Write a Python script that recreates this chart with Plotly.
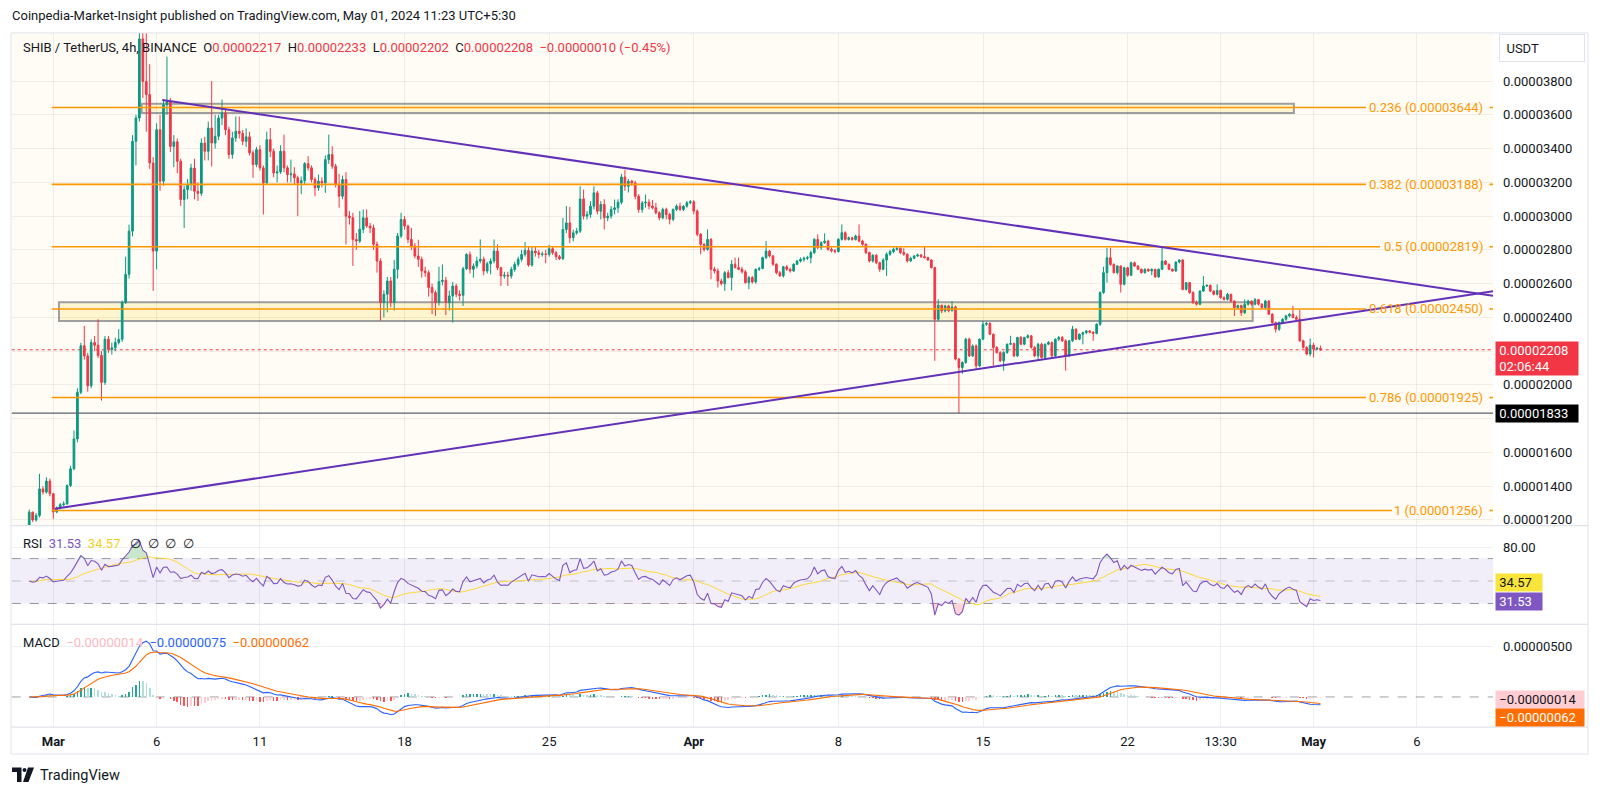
import numpy as np
import pandas as pd
import plotly.graph_objects as go

W, H = 1600, 796
UNIT = 1e-8  # prices below are in units of 0.00000001 USDT

# ---------------- data ----------------
first_open = 1170
closes = [
    1246, 1200, 1227, 1384, 1365, 1430, 1355, 1247, 1270, 1290,
    1295, 1404, 1503, 1680, 1956, 2232, 2172, 1995, 2251, 2235,
    2175, 2015, 2271, 2210, 2220, 2251, 2270, 2488, 2655, 2911,
    3443, 3581, 4050, 3798, 3720, 3315, 2793, 3512, 3207, 3660,
    3680, 3413, 3440, 3325, 3098, 3157, 3187, 3285, 3147, 3135,
    3433, 3384, 3522, 3433, 3473, 3581, 3611, 3512, 3365, 3463,
    3503, 3490, 3443, 3470, 3375, 3306, 3394, 3286, 3197, 3453,
    3384, 3256, 3262, 3384, 3286, 3246, 3250, 3227, 3197, 3210,
    3311, 3286, 3217, 3168, 3207, 3197, 3335, 3365, 3296, 3187,
    3118, 3217, 3000, 2990, 2862, 2852, 2922, 2990, 2941, 2930,
    2833, 2734, 2488, 2537, 2616, 2488, 2685, 2882, 2980, 2941,
    2862, 2823, 2764, 2744, 2675, 2665, 2577, 2547, 2488, 2612,
    2620, 2488, 2527, 2586, 2537, 2531, 2688, 2773, 2685, 2704,
    2734, 2744, 2675, 2718, 2734, 2793, 2694, 2645, 2650, 2645,
    2684, 2714, 2744, 2773, 2797, 2710, 2793, 2783, 2773, 2776,
    2773, 2807, 2783, 2760, 2748, 2921, 2960, 2872, 2901, 2911,
    3102, 3000, 3010, 3059, 3138, 3029, 3069, 2990, 3000, 3039,
    3049, 3082, 3232, 3177, 3207, 3197, 3118, 3039, 3078, 3082,
    3060, 3049, 3020, 2990, 3040, 3010, 2981, 3040, 3059, 3040,
    3059, 3079, 3085, 3030, 2892, 2833, 2803, 2862, 2685, 2675,
    2616, 2600, 2665, 2636, 2715, 2695, 2685, 2670, 2606, 2636,
    2610, 2685, 2690, 2754, 2793, 2764, 2715, 2665, 2646, 2700,
    2685, 2675, 2715, 2734, 2744, 2750, 2754, 2784, 2862, 2813,
    2843, 2852, 2803, 2795, 2790, 2862, 2902, 2862, 2872, 2862,
    2882, 2852, 2833, 2784, 2734, 2768, 2724, 2685, 2740, 2774,
    2790, 2803, 2810, 2784, 2774, 2734, 2750, 2764, 2770, 2760,
    2754, 2740, 2695, 2389, 2472, 2438, 2468, 2440, 2462, 2153,
    2103, 2133, 2271, 2172, 2231, 2113, 2271, 2359, 2365, 2300,
    2222, 2192, 2143, 2192, 2241, 2245, 2172, 2281, 2241, 2281,
    2291, 2222, 2172, 2241, 2163, 2241, 2251, 2172, 2271, 2281,
    2261, 2172, 2261, 2330, 2271, 2300, 2310, 2320, 2312, 2305,
    2359, 2547, 2665, 2753, 2714, 2665, 2704, 2596, 2694, 2650,
    2724, 2704, 2685, 2665, 2685, 2675, 2685, 2640, 2685, 2734,
    2714, 2685, 2675, 2728, 2740, 2566, 2606, 2547, 2488, 2478,
    2556, 2586, 2590, 2556, 2537, 2560, 2517, 2507, 2537, 2497,
    2458, 2470, 2428, 2478, 2497, 2478, 2505, 2478, 2458, 2497,
    2419, 2369, 2330, 2370, 2389, 2409, 2419, 2399, 2389, 2261,
    2222, 2183, 2236, 2212, 2217, 2208,
]
highs = [
    1262, 1250, 1240, 1473, 1400, 1453, 1445, 1360, 1280, 1300,
    1310, 1410, 1520, 1730, 1980, 2250, 2350, 2190, 2270, 2290,
    2389, 2200, 2290, 2290, 2250, 2280, 2330, 2500, 2760, 2950,
    3480, 3600, 4400, 4300, 4120, 3900, 3350, 3550, 3600, 3690,
    3945, 3700, 3480, 3460, 3340, 3180, 3220, 3310, 3340, 3200,
    3460, 3470, 3560, 3800, 3600, 3600, 3690, 3630, 3530, 3500,
    3590, 3590, 3510, 3520, 3500, 3390, 3410, 3420, 3300, 3500,
    3522, 3400, 3300, 3420, 3483, 3300, 3335, 3290, 3240, 3235,
    3320, 3355, 3300, 3230, 3246, 3230, 3360, 3483, 3414, 3310,
    3250, 3240, 3260, 3030, 3020, 2900, 3030, 3040, 3040, 2960,
    2950, 2850, 2750, 2560, 2640, 2640, 2740, 2900, 3020, 3000,
    2950, 2930, 2840, 2860, 2760, 2700, 2680, 2600, 2560, 2700,
    2714, 2640, 2560, 2610, 2600, 2560, 2700, 2780, 2790, 2720,
    2760, 2862, 2760, 2730, 2750, 2862, 2832, 2700, 2670, 2670,
    2700, 2730, 2760, 2800, 2846, 2820, 2823, 2820, 2800, 2790,
    2800, 2830, 2820, 2795, 2770, 2990, 3059, 3055, 2920, 2930,
    3177, 3157, 3030, 3089, 3177, 3150, 3090, 3100, 3020, 3060,
    3098, 3100, 3250, 3275, 3220, 3215, 3210, 3130, 3090, 3128,
    3100, 3095, 3079, 3030, 3050, 3050, 3020, 3045, 3070, 3079,
    3065, 3090, 3095, 3095, 3040, 2900, 2840, 2921, 2870, 2700,
    2690, 2630, 2675, 2680, 2740, 2754, 2754, 2700, 2680, 2645,
    2645, 2690, 2700, 2760, 2852, 2800, 2770, 2720, 2675, 2705,
    2710, 2695, 2720, 2740, 2755, 2760, 2765, 2795, 2870, 2892,
    2850, 2898, 2860, 2815, 2805, 2870, 2951, 2910, 2880, 2878,
    2890, 2951, 2860, 2840, 2790, 2775, 2775, 2730, 2750, 2785,
    2800, 2815, 2820, 2815, 2810, 2780, 2760, 2770, 2778, 2775,
    2819, 2760, 2745, 2700, 2507, 2475, 2475, 2475, 2497, 2470,
    2160, 2140, 2280, 2280, 2240, 2240, 2275, 2379, 2372, 2370,
    2305, 2230, 2200, 2200, 2245, 2291, 2250, 2285, 2290, 2285,
    2300, 2295, 2230, 2250, 2250, 2245, 2260, 2258, 2275, 2290,
    2290, 2270, 2265, 2350, 2335, 2305, 2315, 2325, 2325, 2318,
    2365, 2555, 2700, 2813, 2813, 2720, 2710, 2708, 2700, 2700,
    2730, 2730, 2710, 2690, 2690, 2690, 2690, 2688, 2690, 2813,
    2740, 2720, 2690, 2732, 2745, 2745, 2610, 2610, 2555, 2500,
    2560, 2645, 2595, 2595, 2560, 2596, 2565, 2525, 2545, 2540,
    2500, 2475, 2475, 2507, 2505, 2500, 2515, 2510, 2485, 2505,
    2500, 2425, 2375, 2375, 2395, 2415, 2425, 2468, 2412, 2445,
    2268, 2230, 2275, 2250, 2226, 2233,
]
lows = [
    1160, 1188, 1190, 1215, 1350, 1355, 1340, 1207, 1240, 1262,
    1280, 1290, 1395, 1495, 1660, 1945, 2150, 1960, 1980, 2200,
    2160, 1907, 2000, 2190, 2180, 2200, 2240, 2255, 2480, 2630,
    2880, 3300, 3560, 3700, 3500, 3280, 2557, 2685, 3150, 3180,
    3600, 3380, 3290, 3255, 3060, 2930, 3100, 3150, 3100, 3090,
    3120, 3330, 3330, 3295, 3400, 3450, 3540, 3480, 3340, 3340,
    3440, 3460, 3420, 3410, 3360, 3227, 3290, 3270, 3010, 3190,
    3350, 3230, 3200, 3250, 3260, 3200, 3200, 3190, 3000, 3130,
    3190, 3270, 3200, 3118, 3150, 3170, 3138, 3310, 3280, 3170,
    3050, 3100, 2832, 2950, 2705, 2800, 2840, 2900, 2930, 2900,
    2800, 2665, 2380, 2400, 2430, 2460, 2440, 2630, 2870, 2920,
    2840, 2800, 2750, 2700, 2636, 2640, 2523, 2420, 2409, 2470,
    2590, 2413, 2440, 2369, 2520, 2500, 2468, 2680, 2660, 2635,
    2690, 2720, 2650, 2660, 2655, 2720, 2680, 2586, 2630, 2586,
    2630, 2670, 2700, 2730, 2760, 2700, 2700, 2760, 2750, 2760,
    2720, 2760, 2770, 2740, 2740, 2740, 2900, 2840, 2850, 2890,
    2900, 2980, 2980, 2990, 3040, 3010, 2980, 2921, 2970, 2985,
    3010, 3020, 3070, 3150, 3140, 3180, 3100, 3020, 3020, 3050,
    3040, 3040, 3010, 2975, 2980, 2981, 2951, 2970, 3030, 3030,
    3030, 3050, 3070, 3010, 2880, 2774, 2790, 2795, 2626, 2660,
    2577, 2590, 2557, 2630, 2560, 2690, 2680, 2660, 2600, 2567,
    2600, 2600, 2675, 2685, 2745, 2755, 2705, 2655, 2640, 2636,
    2675, 2665, 2670, 2710, 2725, 2730, 2740, 2720, 2775, 2805,
    2800, 2835, 2795, 2785, 2780, 2785, 2855, 2855, 2855, 2855,
    2855, 2845, 2825, 2775, 2725, 2725, 2715, 2670, 2680, 2646,
    2765, 2780, 2795, 2775, 2765, 2725, 2730, 2745, 2758, 2752,
    2750, 2735, 2690, 2143, 2379, 2425, 2430, 2430, 2435, 2145,
    1832, 2065, 2125, 2165, 2165, 2094, 2105, 2265, 2350, 2295,
    2113, 2185, 2135, 2084, 2185, 2235, 2165, 2165, 2235, 2235,
    2275, 2215, 2165, 2143, 2155, 2155, 2235, 2165, 2165, 2260,
    2255, 2084, 2165, 2255, 2265, 2265, 2240, 2300, 2305, 2261,
    2300, 2350, 2540, 2606, 2705, 2660, 2655, 2547, 2590, 2640,
    2645, 2700, 2680, 2660, 2660, 2670, 2650, 2635, 2635, 2680,
    2710, 2680, 2670, 2670, 2720, 2560, 2560, 2540, 2480, 2470,
    2472, 2550, 2580, 2550, 2530, 2530, 2510, 2500, 2500, 2490,
    2409, 2450, 2409, 2420, 2470, 2470, 2472, 2470, 2450, 2450,
    2415, 2362, 2310, 2320, 2360, 2380, 2400, 2395, 2385, 2255,
    2215, 2175, 2170, 2163, 2205, 2202,
]
# each 4h candle opens at the previous candle's close
opens = [first_open] + closes[:-1]

times = pd.date_range("2024-02-28 21:30", periods=len(closes), freq="4h")

fib_names = ["0.236", "0.382", "0.5", "0.618", "0.786", "1"]
fib_prices = [3644, 3188, 2819, 2450, 1925, 1256]

tick_times = ["2024-03-01 01:30", "2024-03-06 01:30", "2024-03-11 01:30",
              "2024-03-18 01:30", "2024-03-25 01:30", "2024-04-01 01:30",
              "2024-04-08 01:30", "2024-04-15 01:30", "2024-04-22 01:30",
              "2024-04-26 13:30", "2024-05-01 01:30", "2024-05-06 01:30"]
tick_labels = ["<b>Mar</b>", "6", "11", "18", "25", "<b>Apr</b>", "8", "15",
               "22", "13:30", "<b>May</b>", "6"]

price_ticks = list(range(1200, 3801, 200))
hidden_price_ticks = [1800, 2200]   # covered by the price badges in the picture

upper_trend_t = ["2024-03-06 08:05", "2024-05-09 17:56"]
upper_trend_p = [3688, 2528]
lower_trend_t = ["2024-03-01 03:25", "2024-05-09 17:56"]
lower_trend_p = [1266, 2555]

top_zone_t = ["2024-03-05 08:10", "2024-04-30 02:40"]
top_zone_p = [3611, 3666]
mid_zone_t = ["2024-03-01 08:05", "2024-04-28 02:45"]
mid_zone_p = [2379, 2490]

last_price = 2208
marked_low = 1833
ohlc_text = ["0.00002217", "0.00002233", "0.00002202", "0.00002208"]
change_text = "−0.00000010 (−0.45%)"
rsi_legend = ["31.53", "34.57"]
macd_legend = ["−0.00000014", "−0.00000075", "−0.00000062"]

# ---------------- indicators (standard RSI 14 / MACD 12,26,9 of the closes) ----------------
c = np.array(closes, dtype=float)
d = np.diff(c)
gain = np.clip(d, 0, None)
loss = np.clip(-d, 0, None)
ag = al = float(np.mean(np.abs(d[:14])))
rsi = [50.0]
for g, l in zip(gain, loss):
    ag = (ag * 13 + g) / 14
    al = (al * 13 + l) / 14
    rsi.append(100 - 100 / (1 + ag / al))
rsi = np.array(rsi)
rsi_ma = pd.Series(rsi).rolling(14, min_periods=1).mean().values

cs = pd.Series(c * UNIT)
macd = cs.ewm(span=12, adjust=False).mean() - cs.ewm(span=26, adjust=False).mean()
signal = macd.ewm(span=9, adjust=False).mean()
hist = (macd - signal).values
hist_colors = []
for i, h in enumerate(hist):
    prev = hist[i - 1] if i > 0 else 0.0
    if h >= 0:
        hist_colors.append("#26a69a" if h >= prev else "#b2dfdb")
    else:
        hist_colors.append("#ffcdd2" if h > prev else "#ff5252")

# ---------------- layout helpers ----------------
def X(px):
    return px / W

def Y(py):
    return 1 - py / H

FONT = "Roboto, Arial, sans-serif"
TXT = "#131722"
GRID = "rgba(42,46,57,0.07)"
X_RANGE = ["2024-02-28 01:10", "2024-05-09 17:56"]

fig = go.Figure()

fig.add_trace(go.Candlestick(
    x=times, open=[v * UNIT for v in opens], high=[v * UNIT for v in highs],
    low=[v * UNIT for v in lows], close=[v * UNIT for v in closes],
    increasing=dict(line=dict(color="#089981", width=1), fillcolor="#089981"),
    decreasing=dict(line=dict(color="#f23645", width=1), fillcolor="#f23645"),
    xaxis="x", yaxis="y", showlegend=False, hoverinfo="skip", whiskerwidth=0))

# RSI pane
fig.add_trace(go.Scatter(x=times, y=np.full(len(rsi), 70.0), mode="lines",
                         line=dict(width=0, color="rgba(0,0,0,0)"),
                         xaxis="x2", yaxis="y2", showlegend=False, hoverinfo="skip"))
fig.add_trace(go.Scatter(x=times, y=np.maximum(rsi, 70), mode="lines",
                         line=dict(width=0, color="rgba(0,0,0,0)"), fill="tonexty",
                         fillcolor="rgba(76,175,80,0.30)",
                         xaxis="x2", yaxis="y2", showlegend=False, hoverinfo="skip"))
fig.add_trace(go.Scatter(x=times, y=np.full(len(rsi), 30.0), mode="lines",
                         line=dict(width=0, color="rgba(0,0,0,0)"),
                         xaxis="x2", yaxis="y2", showlegend=False, hoverinfo="skip"))
fig.add_trace(go.Scatter(x=times, y=np.minimum(rsi, 30), mode="lines",
                         line=dict(width=0, color="rgba(0,0,0,0)"), fill="tonexty",
                         fillcolor="rgba(242,54,69,0.22)",
                         xaxis="x2", yaxis="y2", showlegend=False, hoverinfo="skip"))
fig.add_trace(go.Scatter(x=times, y=rsi_ma, mode="lines",
                         line=dict(width=1, color="#fdd835"),
                         xaxis="x2", yaxis="y2", showlegend=False, hoverinfo="skip"))
fig.add_trace(go.Scatter(x=times, y=rsi, mode="lines",
                         line=dict(width=1.1, color="#7e57c2"),
                         xaxis="x2", yaxis="y2", showlegend=False, hoverinfo="skip"))

# MACD pane
fig.add_trace(go.Bar(x=times, y=hist, marker=dict(color=hist_colors, line=dict(width=0)),
                     width=4 * 3600 * 1000 * 0.45, xaxis="x3", yaxis="y3",
                     showlegend=False, hoverinfo="skip"))
fig.add_trace(go.Scatter(x=times, y=macd, mode="lines", line=dict(width=1.1, color="#2962ff"),
                         xaxis="x3", yaxis="y3", showlegend=False, hoverinfo="skip"))
fig.add_trace(go.Scatter(x=times, y=signal, mode="lines", line=dict(width=1.1, color="#ff6d00"),
                         xaxis="x3", yaxis="y3", showlegend=False, hoverinfo="skip"))

xdom = [X(11.7), X(1493)]
xcommon = dict(domain=xdom, range=X_RANGE, type="date", tickvals=tick_times,
               showgrid=True, gridcolor=GRID, gridwidth=1, zeroline=False,
               showline=False, ticks="", fixedrange=True)

fig.update_layout(
    width=W, height=H, margin=dict(l=0, r=0, t=0, b=0),
    paper_bgcolor="white", plot_bgcolor="white",
    font=dict(family=FONT, size=13, color=TXT),
    hovermode=False, dragmode=False, bargap=0,
    xaxis=dict(**xcommon, anchor="y", showticklabels=False,
               rangeslider=dict(visible=False)),
    xaxis2=dict(**xcommon, anchor="y2", matches="x", showticklabels=False),
    xaxis3=dict(**xcommon, anchor="y3", matches="x", showticklabels=True,
                ticktext=tick_labels, tickfont=dict(size=13, color=TXT),
                ticklabelstandoff=5),
    yaxis=dict(domain=[Y(527), Y(33)], anchor="x", side="right",
               range=[1166 * UNIT, 4085.5 * UNIT],
               tickvals=[v * UNIT for v in price_ticks],
               ticktext=["" if v in hidden_price_ticks else f"{v * UNIT:.8f}"
                         for v in price_ticks],
               showgrid=True, gridcolor=GRID, zeroline=False, ticks="",
               ticklabelstandoff=9, tickfont=dict(size=13, color=TXT), fixedrange=True),
    yaxis2=dict(domain=[Y(626), Y(527)], anchor="x2", side="right",
                range=[11.33, 99.33], tickvals=[80], ticktext=["80.00"],
                showgrid=True, gridcolor=GRID, zeroline=False, ticks="",
                ticklabelstandoff=9, tickfont=dict(size=13, color=TXT), fixedrange=True),
    yaxis3=dict(domain=[Y(729), Y(626)], anchor="x3", side="right",
                range=[-3.006e-6, 7.212e-6], tickvals=[5e-6], ticktext=["0.00000500"],
                showgrid=True, gridcolor=GRID, zeroline=False, ticks="",
                ticklabelstandoff=9, tickfont=dict(size=13, color=TXT), fixedrange=True),
)

XL, XR = X(11.7), X(1493)
shapes = []
# pane backgrounds and bands (beneath the traces)
shapes.append(dict(type="rect", xref="paper", yref="paper", x0=XL, x1=XR, y0=Y(527), y1=Y(33),
                   fillcolor="#fffcf5", line=dict(width=0), layer="below"))
shapes.append(dict(type="rect", xref="paper", yref="y2", x0=XL, x1=XR, y0=30, y1=70,
                   fillcolor="rgba(126,87,194,0.10)", line=dict(width=0), layer="below"))
for zt, zp in [(top_zone_t, top_zone_p), (mid_zone_t, mid_zone_p)]:
    shapes.append(dict(type="rect", xref="x", yref="y", x0=zt[0], x1=zt[1],
                       y0=zp[0] * UNIT, y1=zp[1] * UNIT,
                       fillcolor="rgba(255,236,150,0.40)",
                       line=dict(color="#9e9e9e", width=2), layer="below"))
shapes.append(dict(type="line", xref="paper", yref="y", x0=XL, x1=XR,
                   y0=last_price * UNIT, y1=last_price * UNIT,
                   line=dict(color="#f23645", width=1, dash="dot"), layer="below"))
for lvl, col in [(70, "#9598a1"), (50, "rgba(149,152,161,0.55)"), (30, "#9598a1")]:
    shapes.append(dict(type="line", xref="paper", yref="y2", x0=XL, x1=XR, y0=lvl, y1=lvl,
                       line=dict(color=col, width=1, dash="dash"), layer="below"))
shapes.append(dict(type="line", xref="paper", yref="y3", x0=XL, x1=XR, y0=0, y1=0,
                   line=dict(color="rgba(120,123,134,0.7)", width=1, dash="dash"),
                   layer="below"))

# marked low line
shapes.append(dict(type="line", xref="paper", yref="y", x0=XL, x1=XR,
                   y0=marked_low * UNIT, y1=marked_low * UNIT,
                   line=dict(color="#5d606b", width=1.2), layer="above"))

# fib levels (line broken where the label sits)
fib_line_end_px = [1366, 1366, 1380, 1366, 1366, 1392]
for p, end_px in zip(fib_prices, fib_line_end_px):
    for a, b in [(51.7, end_px), (1489.5, 1493)]:
        shapes.append(dict(type="line", xref="paper", yref="y", x0=X(a), x1=X(b),
                           y0=p * UNIT, y1=p * UNIT,
                           line=dict(color="#ff9800", width=1.6), layer="above"))

# trend lines
for tt, tp in [(upper_trend_t, upper_trend_p), (lower_trend_t, lower_trend_p)]:
    shapes.append(dict(type="line", xref="x", yref="y", x0=tt[0], x1=tt[1],
                       y0=tp[0] * UNIT, y1=tp[1] * UNIT,
                       line=dict(color="#6330b8", width=2), layer="above"))

# frame and pane separators
BORDER = "#e0e3eb"
shapes.append(dict(type="rect", xref="paper", yref="paper", x0=X(11), x1=X(1588),
                   y0=Y(756), y1=Y(33), line=dict(color=BORDER, width=1),
                   fillcolor="rgba(0,0,0,0)", layer="above"))
for py in [527, 626, 729]:
    shapes.append(dict(type="line", xref="paper", yref="paper", x0=X(11), x1=X(1588),
                       y0=Y(py), y1=Y(py), line=dict(color=BORDER, width=1.2), layer="above"))

# TradingView logo mark
def P(px, py):
    return f"{X(px):.5f},{Y(py):.5f}"
shapes.append(dict(type="path", xref="paper", yref="paper",
                   path=f"M {P(12,769.5)} L {P(21.5,769.5)} L {P(21.5,784)} L {P(17,784)} "
                        f"L {P(17,774)} L {P(12,774)} Z",
                   fillcolor=TXT, line=dict(width=0), layer="above"))
shapes.append(dict(type="circle", xref="paper", yref="paper",
                   x0=X(22.5), x1=X(26.5), y0=Y(774), y1=Y(770),
                   fillcolor=TXT, line=dict(width=0), layer="above"))
shapes.append(dict(type="path", xref="paper", yref="paper",
                   path=f"M {P(28,769.5)} L {P(34,769.5)} L {P(28.5,784)} L {P(23,784)} Z",
                   fillcolor=TXT, line=dict(width=0), layer="above"))
fig.update_layout(shapes=shapes)

ann = []
def text(px, py, t, size=13, color=TXT, xanchor="left", **kw):
    ann.append(dict(x=X(px), y=Y(py), xref="paper", yref="paper", text=t,
                    showarrow=False, xanchor=xanchor, yanchor="middle",
                    font=dict(family=FONT, size=size, color=color), **kw))

text(10, 15.5, "Coinpedia-Market-Insight published on TradingView.com, May 01, 2024 11:23 UTC+5:30")
red = "#f23645"
sp = "&nbsp;&nbsp;"
hdr = ("SHIB / TetherUS, 4h, BINANCE" + sp +
       f"O<span style='color:{red}'>{ohlc_text[0]}</span>" + sp +
       f"H<span style='color:{red}'>{ohlc_text[1]}</span>" + sp +
       f"L<span style='color:{red}'>{ohlc_text[2]}</span>" + sp +
       f"C<span style='color:{red}'>{ohlc_text[3]}</span>" + sp +
       f"<span style='color:{red}'>{change_text}</span>")
text(20.5, 47.5, hdr)
text(20.5, 545, "RSI" + sp + f"<span style='color:#7e57c2'>{rsi_legend[0]}</span>" + sp +
     f"<span style='color:#f2cf1f'>{rsi_legend[1]}</span>" + sp + "&nbsp;" +
     "&nbsp;&nbsp;".join(["∅"] * 4))
text(20.5, 644, "MACD" + sp + f"<span style='color:#ffb8c1'>{macd_legend[0]}</span>" + sp +
     f"<span style='color:#2962ff'>{macd_legend[1]}</span>" + sp +
     f"<span style='color:#ff6d00'>{macd_legend[2]}</span>")
text(38, 777, "TradingView", size=14.5)

# fib labels
for name, p in zip(fib_names, fib_prices):
    ann.append(dict(x=X(1485), y=p * UNIT, xref="paper", yref="y",
                    text=f"{name} ({p * UNIT:.8f})", showarrow=False,
                    xanchor="right", yanchor="middle",
                    font=dict(family=FONT, size=13, color="#ff9800")))

# price-scale badges
def badge(py, t, bg, fg, w, h=17):
    ann.append(dict(x=X(1494.5), y=Y(py), xref="paper", yref="paper", text=t,
                    showarrow=False, xanchor="left", yanchor="middle", align="left",
                    width=w, height=h, bgcolor=bg, borderpad=0,
                    font=dict(family=FONT, size=13, color=fg)))

badge(48.5, "&nbsp;&nbsp;USDT", "white", TXT, 84, 26)
ann[-1].update(bordercolor=BORDER, borderwidth=1, x=X(1499))
badge(359, f"&nbsp;{last_price * UNIT:.8f}<br>&nbsp;02:06:44", red, "white", 82, 33)
badge(414.5, f"&nbsp;{marked_low * UNIT:.8f}", "#000000", "white", 82)
badge(584, "&nbsp;" + rsi_legend[1], "#f9e43c", TXT, 46)
badge(603, "&nbsp;" + rsi_legend[0], "#7e57c2", "white", 46)
badge(701, "&nbsp;" + macd_legend[0], "#ffcdd2", TXT, 88)
badge(719, "&nbsp;" + macd_legend[2], "#ff6d00", "white", 88)

fig.update_layout(annotations=ann)

fig.write_html("out.html", config={"displayModeBar": False, "staticPlot": True},
               post_script="document.body.style.margin='0';document.body.style.overflow='hidden';")
